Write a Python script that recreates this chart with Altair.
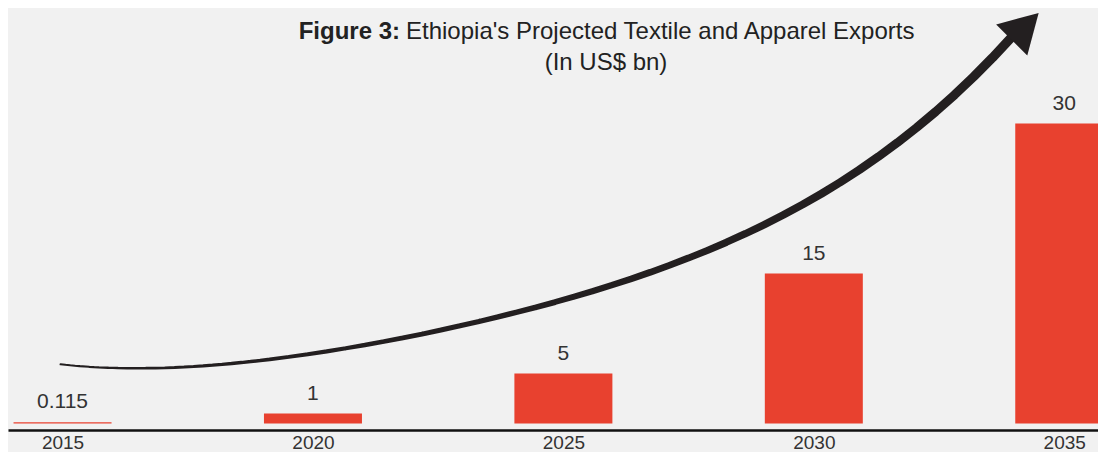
import altair as alt
import pandas as pd

# ---- data ----
years = [2015, 2020, 2025, 2030, 2035]
exports = [0.115, 1, 5, 15, 30]
value_labels = ["0.115", "1", "5", "15", "30"]

# decorative growth arrow in data units (year, US$ bn)
arrow_year = [2014.96, 2015.97, 2017.28, 2018.60, 2019.93, 2021.37, 2023.35,
              2024.67, 2025.98, 2027.31, 2029.28, 2030.61, 2031.91, 2032.65,
              2033.30, 2033.95]
arrow_value = [5.78, 5.68, 5.78, 6.12, 6.82, 8.18, 9.85, 12.0, 14.02, 16.68,
               20.35, 24.02, 28.85, 32.35, 35.65, 38.35]
head_year = [2034.22]
head_value = [39.70]

title_bold = "Figure 3:"
title_rest = "Ethiopia's Projected Textile and Apparel Exports"
subtitle = "(In US$ bn)"

X_DOMAIN = [2014.011, 2035.574]
Y_DOMAIN = [-0.65, 41.55]
FONT = "Liberation Sans"
INK = "#231f20"
TXT = "#333333"

bars_df = pd.DataFrame({"year": years, "value": exports, "label": value_labels})
arrow_df = pd.DataFrame({"year": arrow_year, "value": arrow_value})
head_df = pd.DataFrame({"year": head_year, "value": head_value})

x_enc = alt.X(
    "year:Q",
    scale=alt.Scale(domain=X_DOMAIN, nice=False, zero=False),
    axis=alt.Axis(values=years, format="d", title=None, grid=False, ticks=False,
                  labelFontSize=19, labelColor=TXT, labelFont=FONT,
                  labelPadding=3, domainColor="#111111", domainWidth=2.5,
                  labelFlush=False, labelOverlap=False),
)
y_enc = alt.Y("value:Q", scale=alt.Scale(domain=Y_DOMAIN, nice=False, zero=False),
              axis=None)

bars = alt.Chart(bars_df).mark_bar(width=98, color="#e8412f").encode(
    x=x_enc, y=y_enc, y2=alt.datum(0)
)
labels = alt.Chart(bars_df).mark_text(
    dy=-20, fontSize=21, color=TXT, font=FONT, baseline="middle"
).encode(x=x_enc, y=y_enc, text="label:N")

arrow = alt.Chart(arrow_df).transform_calculate(
    t="datum.year - 2015"
).transform_regression(
    "t", "value", method="poly", order=4
).transform_calculate(
    year="datum.t + 2015",
    w="2 + 7.5 * max(0, datum.t + 0.04) / 19",
).mark_trail(color=INK).encode(
    x=x_enc, y=y_enc,
    size=alt.Size("w:Q", scale=None, legend=None),
)
head = alt.Chart(head_df).mark_point(
    shape="triangle-up", size=1936, angle=45, filled=True, color=INK, opacity=1
).encode(x=x_enc, y=y_enc)

t1 = alt.Chart(pd.DataFrame({"t": [title_bold]})).mark_text(
    fontSize=24, fontWeight="bold", font=FONT, color="#222222", align="right",
    baseline="alphabetic"
).encode(x=alt.value(392), y=alt.value(31), text="t:N")
t2 = alt.Chart(pd.DataFrame({"t": [title_rest]})).mark_text(
    fontSize=24, font=FONT, color="#222222", align="left", baseline="alphabetic"
).encode(x=alt.value(398), y=alt.value(31), text="t:N")
t3 = alt.Chart(pd.DataFrame({"t": [subtitle]})).mark_text(
    fontSize=24, font=FONT, color="#222222", align="center", baseline="alphabetic"
).encode(x=alt.value(598), y=alt.value(62), text="t:N")

chart = alt.layer(bars, labels, arrow, head, t1, t2, t3).properties(
    width=1090,
    height=422,
    background="#f1f1f1",
    padding={"left": 0, "top": 0, "right": 0, "bottom": 22},
    autosize=alt.AutoSizeParams(type="none"),
).configure_view(stroke=None)

chart.save("out.html", embed_options={"renderer": "svg", "actions": False})
